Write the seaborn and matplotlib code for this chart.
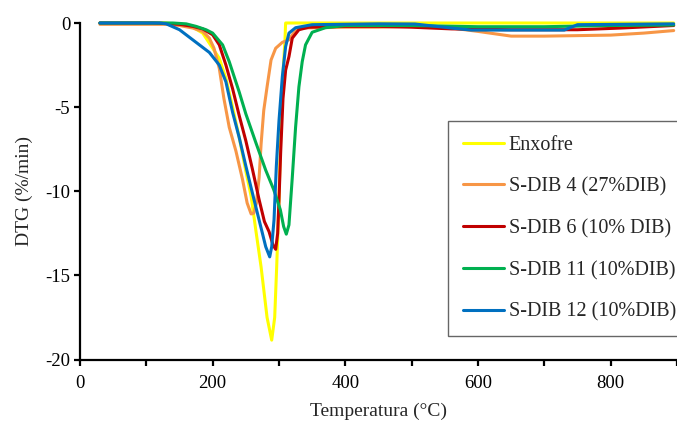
import numpy as np
import pandas as pd
import matplotlib
matplotlib.use('Agg')
import matplotlib.pyplot as plt
import seaborn as sns

# 데이터
enxofre_t = [30, 130, 150, 170, 185, 195, 210, 220, 230, 240, 250, 258, 265, 273, 282, 289,
             293.5, 296.5, 300, 303, 306, 309, 310, 740, 895]
enxofre_dtg = [0, 0, -0.1, -0.25, -0.6, -1.2, -2.1, -3.3, -5.0, -6.8, -8.8, -10.3, -12.3, -14.5,
               -17.5, -18.85, -17.5, -14.5, -10.5, -6.0, -3.0, -1.0, 0, 0, 0]

sdib4_t = [30, 130, 150, 170, 185, 195, 202, 210, 217, 225, 235, 245, 252, 258, 262, 266, 270,
           273, 277, 282, 288, 295, 305, 315, 322, 330, 400, 450, 500, 560, 600, 650, 700, 800,
           850, 895]
sdib4_dtg = [-0.08, -0.08, -0.15, -0.3, -0.5, -0.9, -1.5, -2.7, -4.5, -6.2, -7.6, -9.3, -10.7,
             -11.35, -11.3, -10.7, -9.2, -7.2, -5.2, -3.8, -2.2, -1.5, -1.15, -1.0, -0.6, -0.3,
             -0.25, -0.25, -0.2, -0.3, -0.5, -0.78, -0.78, -0.72, -0.6, -0.45]

sdib6_t = [30, 110, 130, 150, 170, 185, 200, 210, 220, 230, 240, 250, 260, 270, 278, 285, 291,
           295, 298, 300, 302.5, 306, 310, 315, 320, 330, 345, 400, 450, 500, 560, 650, 750, 815,
           895]
sdib6_dtg = [0, 0, -0.03, -0.08, -0.2, -0.35, -0.7, -1.3, -2.5, -3.9, -5.5, -7.0, -8.7, -10.5,
             -11.8, -12.4, -13.2, -13.45, -12.5, -10.5, -7.7, -4.5, -2.8, -2.0, -0.9, -0.4, -0.25,
             -0.2, -0.2, -0.25, -0.35, -0.4, -0.4, -0.3, -0.15]

sdib11_t = [30, 140, 160, 175, 190, 200, 215, 225, 240, 250, 265, 280, 292, 302, 307, 311, 315,
            320, 325, 330, 335, 340, 350, 370, 400, 500, 600, 700, 800, 895]
sdib11_dtg = [0, 0, -0.05, -0.2, -0.4, -0.6, -1.3, -2.3, -4.1, -5.4, -7.1, -8.75, -9.9, -11.1,
              -12.1, -12.55, -12.0, -9.2, -6.2, -3.8, -2.3, -1.3, -0.55, -0.28, -0.15, -0.15,
              -0.22, -0.22, -0.15, -0.12]

sdib12_t = [30, 120, 130, 150, 170, 195, 210, 220, 230, 240, 250, 258, 263, 275, 280, 286, 289,
            292.5, 296, 300, 305, 310, 315, 325, 350, 450, 505, 560, 590, 730, 750, 895]
sdib12_dtg = [0, 0, -0.05, -0.4, -1.0, -1.75, -2.5, -3.5, -5.3, -6.8, -8.5, -9.8, -10.6, -12.5,
              -13.3, -13.9, -13.3, -11.7, -8.5, -5.8, -3.2, -1.4, -0.6, -0.28, -0.1, -0.05, -0.06,
              -0.3, -0.42, -0.42, -0.1, -0.05]

series = [
    ('Enxofre', enxofre_t, enxofre_dtg, '#FFFF00'),
    ('S-DIB 4 (27%DIB)', sdib4_t, sdib4_dtg, '#F79646'),
    ('S-DIB 6 (10% DIB)', sdib6_t, sdib6_dtg, '#C00000'),
    ('S-DIB 11 (10%DIB)', sdib11_t, sdib11_dtg, '#00B050'),
    ('S-DIB 12 (10%DIB)', sdib12_t, sdib12_dtg, '#0070C0'),
]

sns.set_style('ticks')
plt.rcParams['font.family'] = ['Liberation Serif', 'DejaVu Serif']
plt.rcParams['axes.unicode_minus'] = False

fig = plt.figure(figsize=(6.77, 4.21), dpi=100)
ax = fig.add_axes([80 / 677, 1 - 359.5 / 421, 1 - 80 / 677, (359.5 - 23) / 421])

for name, t, dtg, color in series:
    df = pd.DataFrame({'t': t, 'dtg': dtg})
    sns.lineplot(data=df, x='t', y='dtg', ax=ax, color=color, linewidth=2.2,
                 sort=False, label=name, clip_on=False)

ax.set_xlim(0, 895)
ax.set_ylim(-20, 0)
ax.set_xticks(np.arange(0, 901, 100))
ax.set_xticklabels(['0', '', '200', '', '400', '', '600', '', '800', ''])
ax.set_yticks([0, -5, -10, -15, -20])
ax.tick_params(axis='both', direction='out', length=4, width=1.6, labelsize=13.5,
               colors='black')
ax.tick_params(axis='x', pad=7.5)
ax.tick_params(axis='y', pad=3)
for side in ['top', 'right']:
    ax.spines[side].set_visible(False)
for side in ['left', 'bottom']:
    ax.spines[side].set_linewidth(1.6)
    ax.spines[side].set_color('black')

ax.set_xlabel('Temperatura (°C)', fontsize=14, labelpad=7)
ax.set_ylabel('DTG (%/min)', fontsize=14, labelpad=9)

ax.get_legend().remove()
handles, labels = ax.get_legend_handles_labels()
leg = fig.legend(handles, labels, loc='upper left',
                 bbox_to_anchor=(448 / 677, 1 - 121 / 421), fontsize=14.5,
                 frameon=True, fancybox=False, edgecolor='#404040',
                 handlelength=2.05, handletextpad=0.25, labelspacing=1.12,
                 borderpad=0.72, borderaxespad=0)
leg.get_frame().set_linewidth(1.0)

fig.savefig('out.png', dpi=100)
